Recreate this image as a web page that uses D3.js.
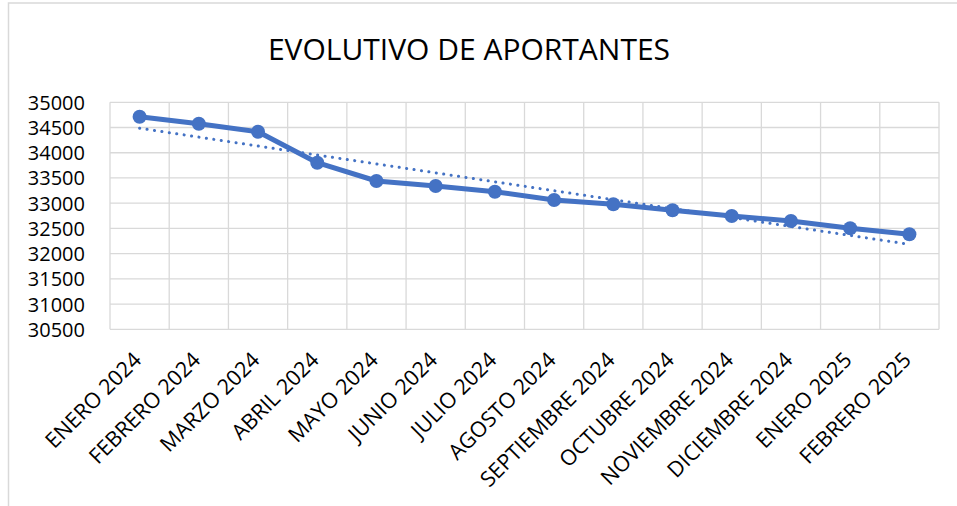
<!DOCTYPE html>
<html>
<head>
<meta charset="utf-8">
<script src="https://cdn.jsdelivr.net/npm/d3@7"></script>
<style>
  html, body { margin: 0; padding: 0; background: #fff; }
  svg { display: block; font-family: "Open Sans", sans-serif; }
</style>
</head>
<body>
<svg id="chart" width="957" height="506"></svg>
<script>
const categories = ["ENERO 2024", "FEBRERO 2024", "MARZO 2024", "ABRIL 2024", "MAYO 2024", "JUNIO 2024", "JULIO 2024", "AGOSTO 2024", "SEPTIEMBRE 2024", "OCTUBRE 2024", "NOVIEMBRE 2024", "DICIEMBRE 2024", "ENERO 2025", "FEBRERO 2025"];
const aportantes = [34715, 34576, 34417, 33803, 33440, 33341, 33228, 33063, 32978, 32859, 32746, 32647, 32502, 32383];
const yTicks = [30500, 31000, 31500, 32000, 32500, 33000, 33500, 34000, 34500, 35000];
const title = "EVOLUTIVO DE APORTANTES";

const svg = d3.select("#chart");
const W = 957, H = 506;
const plot = { left: 110, right: 939, top: 102.3, bottom: 329.3 };
const color = "#4472C4";
const grid = "#d9d9d9";

// chart border
svg.append("rect").attr("x", 8.5).attr("y", 3).attr("width", W + 10).attr("height", H + 10)
  .attr("fill", "none").attr("stroke", grid).attr("stroke-width", 1.5);

const x = d3.scaleBand().domain(categories).range([plot.left, plot.right]).paddingInner(0).paddingOuter(0);
const y = d3.scaleLinear().domain([30500, 35000]).range([plot.bottom, plot.top]);
const cx = c => x(c) + x.bandwidth() / 2;

// horizontal gridlines
svg.append("g").selectAll("line").data(yTicks).join("line")
  .attr("x1", plot.left).attr("x2", plot.right)
  .attr("y1", d => y(d)).attr("y2", d => y(d))
  .attr("stroke", grid).attr("stroke-width", 1.3);

// vertical gridlines (category boundaries)
const bounds = categories.map(c => x(c)).concat([plot.right]);
svg.append("g").selectAll("line").data(bounds).join("line")
  .attr("x1", d => d).attr("x2", d => d)
  .attr("y1", plot.top).attr("y2", plot.bottom)
  .attr("stroke", grid).attr("stroke-width", 1.3);

// y axis labels
const yAxis = d3.axisLeft(y).tickValues(yTicks).tickSize(0).tickPadding(0).tickFormat(d3.format("d"));
const ya = svg.append("g").attr("transform", `translate(${plot.left - 25},0)`).call(yAxis);
ya.select(".domain").remove();
ya.selectAll("text").attr("font-size", 20).attr("fill", "#000").attr("font-family", "Open Sans, sans-serif").attr("dy", "0.35em");

// x axis labels
const xAxis = d3.axisBottom(x).tickSize(0).tickPadding(0);
const xa = svg.append("g").attr("transform", `translate(0,${plot.bottom})`).call(xAxis);
xa.select(".domain").remove();
xa.selectAll("text")
  .attr("font-size", 21.5).attr("fill", "#000").attr("font-family", "Open Sans, sans-serif")
  .attr("text-anchor", "end").attr("dy", null).attr("y", 0)
  .attr("transform", "translate(3,32) rotate(-45)");

// trendline (linear least squares, as in the original)
const n = aportantes.length;
const xs = d3.range(n);
const mx = d3.mean(xs), my = d3.mean(aportantes);
const slope = d3.sum(xs, i => (i - mx) * (aportantes[i] - my)) / d3.sum(xs, i => (i - mx) ** 2);
const icpt = my - slope * mx;
svg.append("line")
  .attr("x1", cx(categories[0])).attr("y1", y(icpt))
  .attr("x2", cx(categories[n - 1])).attr("y2", y(icpt + slope * (n - 1)))
  .attr("stroke", color).attr("stroke-width", 3).attr("stroke-linecap", "round")
  .attr("stroke-dasharray", "0.1 7.4");

// series line
const line = d3.line().x((d, i) => cx(categories[i])).y(d => y(d));
svg.append("path").datum(aportantes).attr("d", line)
  .attr("fill", "none").attr("stroke", color).attr("stroke-width", 5).attr("stroke-linejoin", "round");

// markers
svg.append("g").selectAll("circle").data(aportantes).join("circle")
  .attr("cx", (d, i) => cx(categories[i])).attr("cy", d => y(d)).attr("r", 7)
  .attr("fill", color);

// title
svg.append("text").attr("x", 469).attr("y", 59.5).attr("text-anchor", "middle")
  .attr("font-size", 30).attr("fill", "#000").text(title);
</script>
</body>
</html>
